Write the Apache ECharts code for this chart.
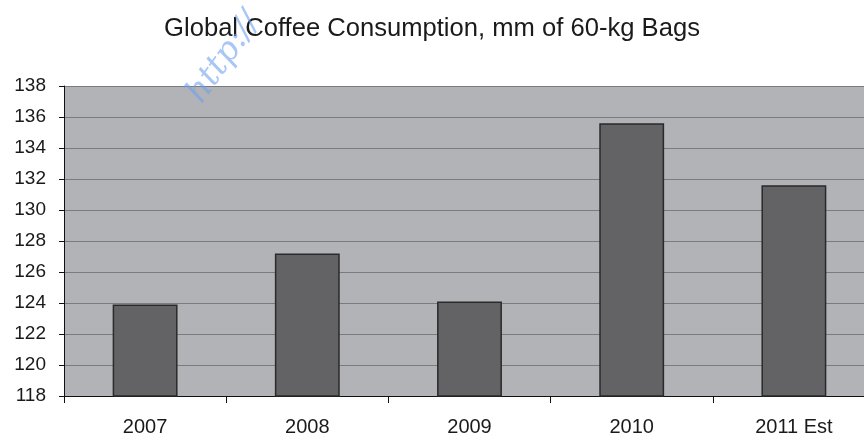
<!DOCTYPE html>
<html>
<head>
<meta charset="utf-8">
<script src="https://cdn.jsdelivr.net/npm/echarts@6/dist/echarts.min.js"></script>
<style>
  html, body { margin: 0; padding: 0; background: #fff; }
  #chart { width: 864px; height: 439px; }
</style>
</head>
<body>
<div id="chart"></div>
<script>
// values
const years = ['2007', '2008', '2009', '2010', '2011 Est'];
const bags = [123.9, 127.2, 124.1, 135.6, 131.6];

const myChart = echarts.init(document.getElementById('chart'));

const option = {
  animation: false,
  title: {
    text: 'Global Coffee Consumption, mm of 60-kg Bags',
    left: 'center',
    top: 11,
    textStyle: {
      fontFamily: 'Liberation Sans, Arial, sans-serif',
      fontWeight: 'normal',
      fontSize: 25.6,
      color: '#1a1a1a',
    },
  },
  graphic: [
    {
      type: 'text',
      x: 181,
      y: 90,
      rotation: Math.PI / 3.3,
      silent: true,
      z: 100,
      style: {
        text: 'http://',
        font: 'italic 33px "DejaVu Serif", serif',
        fill: 'rgba(110, 160, 240, 0.6)',
      },
    },
  ],
  grid: {
    left: 64,
    width: 811,
    top: 86,
    bottom: 43,
    outerBoundsMode: 'none',
    show: true,
    backgroundColor: '#b2b3b6',
    borderWidth: 0,
  },
  xAxis: {
    type: 'category',
    data: years,
    axisLine: { lineStyle: { color: '#111', width: 1 } },
    axisTick: { show: true, length: 7, lineStyle: { color: '#111' } },
    axisLabel: {
      margin: 21,
      fontSize: 20,
      color: '#1a1a1a',
      fontFamily: 'Liberation Sans, Arial, sans-serif',
    },
  },
  yAxis: {
    type: 'value',
    min: 118,
    max: 138,
    interval: 2,
    axisLine: { show: true, lineStyle: { color: '#111', width: 1 } },
    axisTick: { show: true, length: 5, lineStyle: { color: '#111' } },
    axisLabel: {
      margin: 18,
      fontSize: 19,
      color: '#1a1a1a',
      fontFamily: 'Liberation Sans, Arial, sans-serif',
    },
    splitLine: { lineStyle: { color: '#7b7b7e', width: 1.2 } },
  },
  series: [
    {
      name: 'Consumption',
      type: 'bar',
      data: bags,
      barWidth: '40%',
      itemStyle: {
        color: '#636365',
        borderColor: '#2a2a2b',
        borderWidth: 1.5,
      },
    },
  ],
};

myChart.setOption(option);

window.addEventListener('resize', () => {
  myChart.resize();
});
</script>
</body>
</html>
